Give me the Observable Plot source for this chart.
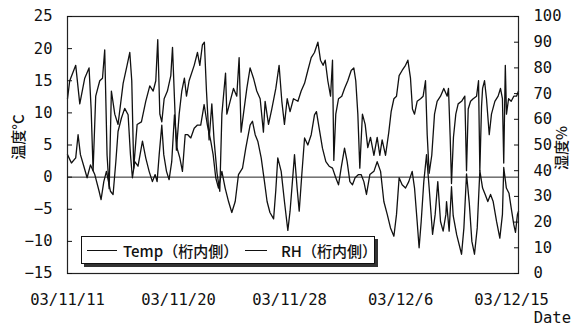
<!DOCTYPE html>
<html><head><meta charset="utf-8">
<script src="https://cdn.jsdelivr.net/npm/d3@7"></script>
<script src="https://cdn.jsdelivr.net/npm/@observablehq/plot@0.6"></script>
<style>
body{margin:0;background:#fff;}
#wrap{position:relative;width:571px;height:327px;overflow:hidden;}
.mono{font-family:"DejaVu Sans Mono",monospace;color:#111;}
.ytitle{position:absolute;font-family:"Noto Sans CJK JP",sans-serif;font-size:15px;font-weight:500;color:#111;white-space:nowrap;transform:translate(-50%,-50%) rotate(-90deg);}
#legend{position:absolute;left:81px;top:236px;width:292px;height:26px;border:1px solid #111;background:#fff;box-shadow:3px 3px 0 #333;display:flex;align-items:center;font-family:"Noto Sans CJK JP",sans-serif;font-size:15px;font-weight:500;color:#111;}
.sw{display:inline-block;height:0;border-top:1px solid #111;}
</style></head><body><div id="wrap"></div>
<script>
// x position: elapsed days (label spacing from the axis)
const tickPos = [0, 8.5, 17, 25.5, 34];
const tickLabels = ["03/11/11", "03/11/20", "03/11/28", "03/12/6", "03/12/15"];
const leftTicks = [-15, -10, -5, 0, 5, 10, 15, 20, 25];
const rightTicks = [0, 10, 20, 30, 40, 50, 60, 70, 80, 90, 100];

// RH (%)
const rhT = [0,0.17,0.63,0.94,1.32,1.65,1.81,1.96,2.16,2.47,2.68,2.85,3.03,3.19,3.36,3.62,3.87,4.26,4.56,4.77,4.92,5.07,5.33,5.66,
 5.99,6.3,6.56,6.76,6.91,7.07,7.22,7.4,7.65,7.91,8.04,8.19,8.34,8.55,8.75,8.95,9.11,9.31,9.7,9.95,10.13,10.33,10.48,10.64,10.84,11.05,11.22,11.45,11.66,
 11.82,12.1,12.2,12.45,12.71,12.96,13.14,13.29,13.47,13.73,13.98,14.24,14.49,14.75,15.0,15.13,15.39,15.64,15.95,16.2,16.41,16.61,16.82,17.04,17.3,
 17.64,17.89,18.15,18.4,18.66,18.91,19.17,19.37,19.57,19.73,19.93,20.14,20.29,20.39,20.54,20.75,21.0,21.21,21.46,21.72,21.92,22.07,22.23,22.38,22.58,22.79,22.99,23.2,
 23.46,23.71,23.91,24.09,24.35,24.6,24.78,24.99,25.19,25.39,25.62,25.88,26.06,26.26,26.41,26.57,26.77,27.03,27.23,27.41,27.54,27.69,27.89,28.1,28.3,28.56,28.81,29.07,
 29.17,29.3,29.4,29.55,29.73,29.91,30.17,30.42,30.55,30.68,30.86,31.06,31.32,31.47,31.57,31.7,31.78,31.93,32.08,32.29,32.46,32.72,32.97,33.15,33.3,33.4,33.52,33.61,33.77,33.97,34.17,34.38,34.53];
const rhV = [68,75,81,66,76,80,64,40,69,75,76,87,46,33,71,62,58,74,81,86,75,41,58,59,
 67,73,71,75,91,62,59,68,71,77,88,68,48,62,71,76,69,75,81,86,81,89,90,71,52,66,52,39,32,
 62,78,62,67,72,69,84,55,62,72,80,76,71,68,55,67,58,64,72,81,67,58,68,63,68,
 67,71,74,79,84,86,90,83,81,83,75,69,83,44,62,68,69,72,75,79,80,75,62,41,62,58,49,53,
 46,53,46,52,46,55,63,68,69,77,79,81,83,76,64,62,67,68,69,75,54,39,46,62,67,69,72,69,
 72,53,35,53,62,66,67,69,40,64,67,68,69,75,40,65,72,75,68,54,62,67,69,72,68,43,81,62,68,67,69,69,71];

// Temp (°C)
const tempT = [0,0.3,0.63,0.81,0.99,1.25,1.5,1.76,2.09,2.42,2.57,2.78,2.98,3.29,3.49,3.7,3.87,4.13,4.38,4.64,4.82,4.97,5.15,5.4,5.74,
 5.99,6.25,6.5,6.71,6.86,7.02,7.22,7.37,7.58,7.78,7.98,8.19,8.39,8.6,8.8,9.01,9.21,9.44,9.7,9.95,10.2,10.46,10.71,10.97,11.15,11.35,11.56,
 11.82,12.07,12.33,12.58,12.84,13.09,13.4,13.65,13.98,14.16,14.37,14.57,14.83,15.08,15.28,15.5,15.78,15.95,16.1,16.36,16.61,16.87,17.04,17.22,
 17.38,17.58,17.74,17.94,18.15,18.4,18.66,18.91,19.06,19.27,19.52,19.78,20.03,20.29,20.54,20.75,20.95,21.21,21.41,21.62,21.82,22.02,22.28,22.48,22.69,22.89,23.15,
 23.46,23.71,23.97,24.22,24.48,24.73,24.99,25.19,25.39,25.62,25.88,26.13,26.39,26.57,26.77,26.92,27.08,27.28,27.49,27.69,27.95,28.15,28.35,28.56,28.76,28.97,
 29.02,29.22,29.4,29.53,29.8,30.17,30.35,30.55,30.76,30.96,31.16,31.37,31.57,31.78,31.98,32.18,32.39,32.59,32.85,33.1,33.3,33.4,33.6,33.8,33.97,34.17,34.3,34.45,34.53];
const tempV = [3.5,2.2,3.0,6.6,3.5,1.7,-0.1,1.9,0.4,-2.2,-3.5,-0.7,0.9,-2.2,-2.7,2.4,7.1,9.2,10.7,9.7,3.5,-0.1,2.4,1.7,5.6,
 3.0,0.9,-0.7,0.4,-0.7,3.5,8.1,3.5,0.9,-0.4,2.4,9.7,4.5,3.0,0.9,6.6,6.6,6.1,7.6,8.1,8.1,11.3,8.1,5.6,3.5,-0.1,-1.7,
 0.9,-1.7,-3.8,-5.5,-3.8,0.4,1.4,4.5,8.1,8.7,6.6,5.6,3.0,-0.7,-3.8,-5.5,-6.5,-2.0,3.0,0.9,-3.8,-8.3,-5.3,-0.7,
 3.5,-1.7,-5.3,0.4,6.1,5.0,6.6,9.7,10.2,7.6,4.5,2.4,1.7,1.4,-0.1,-1.2,1.4,4.5,2.4,-0.7,-1.2,-0.1,0.4,0.4,-0.7,-2.7,0.4,
 0.9,2.4,0.9,-3.8,-5.8,-7.9,-9.2,-5.8,-0.1,-1.2,-1.7,-0.7,0.9,-1.7,-6.9,-11.0,-6.9,-0.7,3.5,-1.7,-8.9,-5.8,-0.7,-6.9,-8.4,-5.8,
 -3.8,-8.4,-1.5,-6.0,-9.0,-12.0,-7.9,0.5,-4.0,-10.0,-12.0,-7.9,1.0,-1.7,-2.7,-3.8,-2.7,-3.8,-6.9,-9.5,-5.8,1.5,-1.7,-2.5,-4.8,-7.4,-8.6,-5.8,-5.3];

// RH drawn against the left scale: 0% -> -15, 100% -> 25
const rhToLeft = r => r * 0.4 - 15;
const rhData = rhT.map((t, i) => ({t, v: rhToLeft(rhV[i])}));
const tempData = tempT.map((t, i) => ({t, v: tempV[i]}));

const chart = Plot.plot({
  width: 571, height: 327,
  marginLeft: 67, marginRight: 53, marginTop: 16, marginBottom: 54,
  style: {fontFamily: "'DejaVu Sans Mono', monospace", fontSize: "15.5px", color: "#111", background: "transparent", overflow: "visible"},
  x: {domain: [0, 34.53]},
  y: {domain: [-15, 25]},
  marks: [
    Plot.ruleY([0], {stroke: "#222", strokeWidth: 1}),
    Plot.line(tempData, {x: "t", y: "v", stroke: "#111", strokeWidth: 1.3}),
    Plot.line(rhData, {x: "t", y: "v", stroke: "#111", strokeWidth: 1.3}),
    Plot.frame({stroke: "#222", strokeWidth: 1.2}),
    Plot.axisY(leftTicks, {anchor: "left", tickSize: -5, tickPadding: 20, label: null}),
    Plot.axisY(rightTicks.map(rhToLeft), {anchor: "right", tickSize: -5, tickPadding: 20, label: null,
      tickFormat: v => String(Math.round((v + 15) / 0.4))}),
    Plot.axisX(tickPos, {anchor: "bottom", tickSize: 0, tickPadding: 20, label: null,
      tickFormat: d => tickLabels[tickPos.indexOf(d)]})
  ]
});
const wrap = document.getElementById("wrap");
wrap.appendChild(chart);

function addDiv(cls, html, css) {
  const d = document.createElement("div");
  d.className = cls; d.innerHTML = html; Object.assign(d.style, css);
  wrap.appendChild(d); return d;
}
addDiv("ytitle", "温度°C", {left: "17px", top: "137px"});
addDiv("ytitle", "湿度%", {left: "560px", top: "148px"});
addDiv("mono", "Date", {position: "absolute", right: "0px", top: "309px", fontSize: "15.5px"});
const lg = addDiv("", "", {});
lg.id = "legend";
lg.innerHTML = '<span class="sw" style="width:31px;margin-left:5px"></span><span style="margin-left:6px">Temp（桁内側）</span>' +
  '<span class="sw" style="width:23px;margin-left:10px"></span><span style="margin-left:14px">RH（桁内側）</span>';
</script>
</body></html>
